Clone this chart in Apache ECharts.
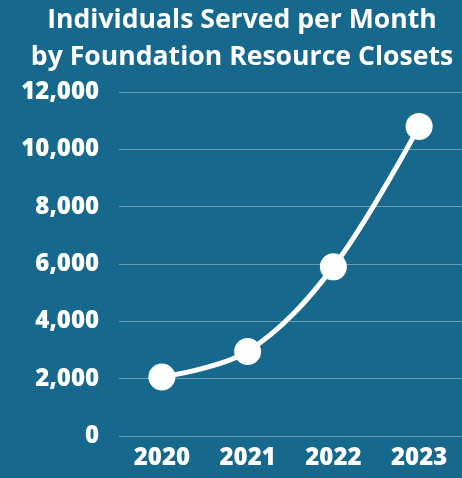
<!DOCTYPE html>
<html>
<head>
<meta charset="utf-8">
<script src="https://cdn.jsdelivr.net/npm/echarts@6/dist/echarts.min.js"></script>
<style>
  html, body { margin: 0; padding: 0; background: #16688c; }
  #chart { width: 462px; height: 478px; }
</style>
</head>
<body>
<div id="chart"></div>
<script>
const years = ['2020', '2021', '2022', '2023']
const served = [2060, 2950, 5900, 10800]
const yTicks = { min: 0, max: 12000, interval: 2000 }

const chart = echarts.init(document.getElementById('chart'))
const font = '"Open Sans", sans-serif'

chart.setOption({
  animation: false,
  backgroundColor: '#16688c',
  title: {
    text: 'Individuals Served per Month\nby Foundation Resource Closets',
    left: 237,
    textAlign: 'center',
    top: -3,
    textStyle: {
      color: '#fff',
      fontFamily: font,
      fontWeight: 'bold',
      fontSize: 26.6,
      lineHeight: 37
    }
  },
  grid: { left: 119, right: 0, top: 92, bottom: 42 },
  xAxis: {
    type: 'category',
    data: years,
    axisLine: { show: false },
    axisTick: { show: false },
    axisLabel: {
      color: '#fff',
      fontFamily: font,
      fontWeight: 800,
      fontSize: 24,
      margin: 10
    }
  },
  yAxis: {
    type: 'value',
    min: yTicks.min,
    max: yTicks.max,
    interval: yTicks.interval,
    axisLabel: {
      color: '#fff',
      fontFamily: font,
      fontWeight: 800,
      fontSize: 24,
      margin: 20,
      formatter: (v) => v.toLocaleString('en-US')
    },
    splitLine: { lineStyle: { color: 'rgba(255,255,255,0.35)', width: 1 } }
  },
  series: [
    {
      type: 'line',
      data: served,
      smooth: 0.35,
      symbol: 'circle',
      symbolSize: 27,
      lineStyle: { color: '#fff', width: 5 },
      itemStyle: { color: '#fff' }
    }
  ]
})
</script>
</body>
</html>
